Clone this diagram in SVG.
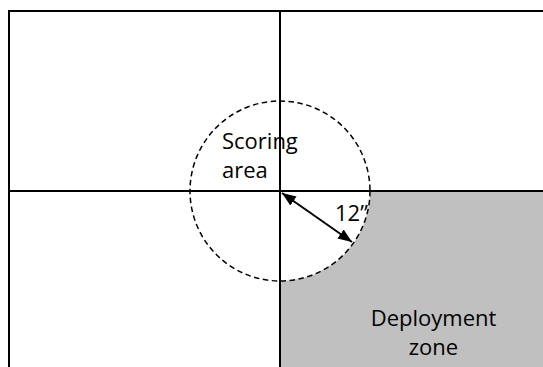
<svg xmlns="http://www.w3.org/2000/svg" width="543" height="367" viewBox="0 0 543 367">
<style>
.ln{stroke:#000;stroke-width:2;fill:none}
.txt{font-family:"Open Sans","Liberation Sans",sans-serif;font-size:22px;fill:#000}
</style>
<defs>
<marker id="ah" viewBox="0 0 14 11" refX="14" refY="5.5" markerWidth="14" markerHeight="11" markerUnits="userSpaceOnUse" orient="auto-start-reverse">
<path d="M0 0 L14 5.5 L0 11 Z" fill="#000"/>
</marker>
</defs>
<rect width="543" height="367" fill="#fff"/>
<g id="deployment-zone">
<path d="M370 191 H543 V367 H280 V281 A90 90 0 0 0 370 191 Z" fill="#c0c0c0"/>
<text class="txt" x="433.5" y="326" text-anchor="middle">Deployment</text>
<text class="txt" x="433.5" y="355" text-anchor="middle">zone</text>
</g>
<g id="field">
<path class="ln" d="M9 367 V11 H543"/>
<line class="ln" x1="280" y1="11" x2="280" y2="367"/>
<line class="ln" x1="9" y1="191" x2="543" y2="191"/>
</g>
<g id="scoring-area">
<circle cx="280" cy="191" r="90" fill="none" stroke="#000" stroke-width="1.5" stroke-dasharray="5.5 3.5"/>
<text class="txt" x="222" y="148.5">Scoring</text>
<text class="txt" x="222" y="177.5">area</text>
</g>
<g id="connectors">
<line x1="282" y1="193" x2="352" y2="242" stroke="#000" stroke-width="2" marker-start="url(#ah)" marker-end="url(#ah)"/>
<text class="txt" x="335" y="220.5">12”</text>
</g>
</svg>
